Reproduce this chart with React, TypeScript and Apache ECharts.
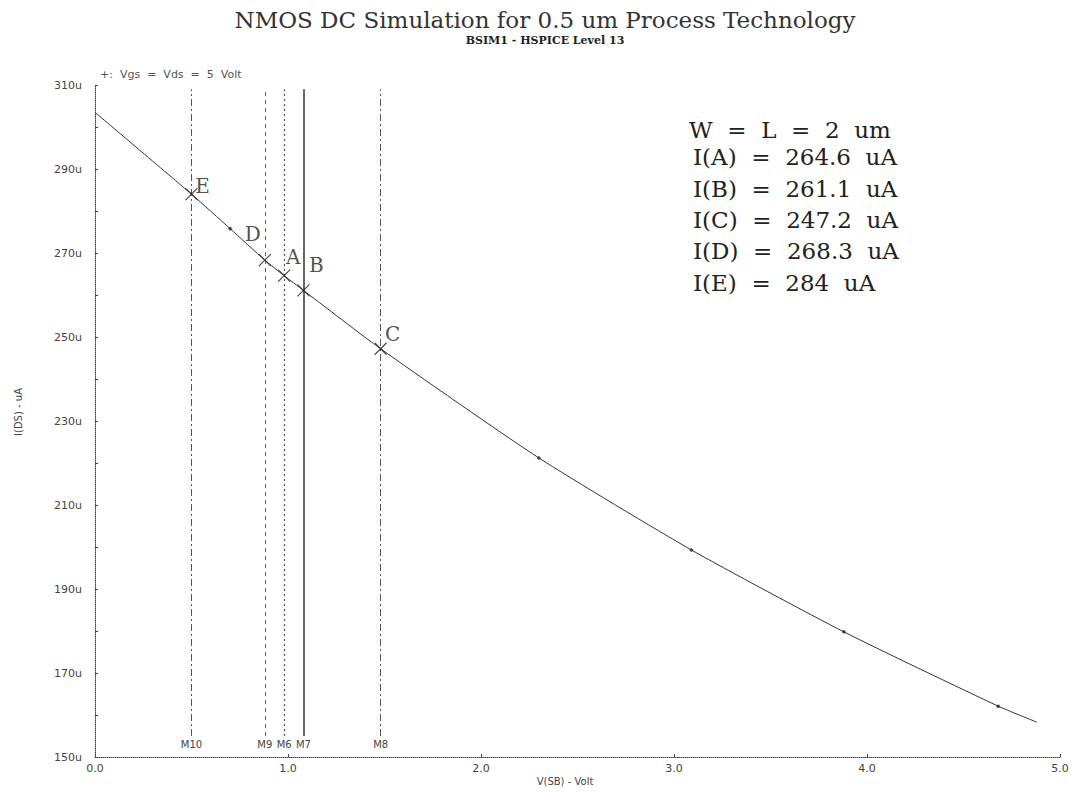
import React, { useEffect, useRef } from "react";
import * as echarts from "echarts";

// Sweep of source-bulk voltage (V) and the resulting drain current (uA)
const vsb = [0, 0.5, 0.7, 0.88, 0.98, 1.08, 1.48, 2.3, 3.09, 3.88, 4.68, 4.88];
const ids = [303.5, 284, 275.8, 268.3, 264.6, 261.1, 247.2, 221.2, 199.3, 179.8, 162.1, 158.3];

// Simulator sample dots drawn on the curve
const sampleV = [0.7, 2.3, 3.09, 3.88, 4.68];

// Labelled operating points
const pointNames = ["E", "D", "A", "B", "C"];
const pointV = [0.5, 0.88, 0.98, 1.08, 1.48];
const pointI = [284, 268.3, 264.6, 261.1, 247.2];

// Device marker lines
const markerNames = ["M10", "M9", "M6", "M7", "M8"];
const markerV = [0.5, 0.88, 0.98, 1.08, 1.48];

const yTicks = [150, 170, 190, 210, 230, 250, 270, 290, 310];
const xTicks = [0, 1, 2, 3, 4, 5];

const infoLines = [
  "W  =  L  =  2  um",
  "I(A)  =  264.6  uA",
  "I(B)  =  261.1  uA",
  "I(C)  =  247.2  uA",
  "I(D)  =  268.3  uA",
  "I(E)  =  284  uA",
];

const SERIF = "'DejaVu Serif', 'Liberation Serif', serif";
const SANS = "'DejaVu Sans', 'Liberation Sans', sans-serif";

export default function App() {
  const ref = useRef<HTMLDivElement>(null);

  useEffect(() => {
    if (!ref.current) return;
    const chart = echarts.init(ref.current, undefined, { renderer: "svg" });

    // label offsets relative to each cross
    const labelOffset: Record<string, number[]> = {
      E: [11, -8],
      D: [-12, -26],
      A: [9, -19],
      B: [13, -25],
      C: [12, -15],
    };

    const lineStyles: Record<string, any> = {
      M10: { type: [7, 3, 2, 3], color: "#555", width: 1 },
      M9: { type: [4, 4], color: "#666", width: 1 },
      M6: { type: [2, 3], color: "#555", width: 1.2 },
      M7: { type: "solid", color: "#333", width: 1.5 },
      M8: { type: [7, 3, 2, 3], color: "#555", width: 1 },
    };

    const markLineData = markerNames.map((n, k) => [
      {
        name: n,
        coord: [markerV[k], 155],
        lineStyle: lineStyles[n],
        label: {
          show: true,
          position: "start",
          formatter: n,
          fontFamily: SANS,
          fontSize: 10,
          color: "#444",
          distance: 3,
        },
      },
      { coord: [markerV[k], 309] },
    ]);

    const option: any = {
      animation: false,
      backgroundColor: "#fff",
      title: {
        text: "NMOS DC Simulation for 0.5 um Process Technology",
        subtext: "BSIM1 - HSPICE Level 13",
        left: 540,
        textAlign: "center",
        top: 3,
        itemGap: 4,
        textStyle: { fontFamily: SERIF, fontSize: 23, fontWeight: "normal", color: "#333" },
        subtextStyle: { fontFamily: SERIF, fontSize: 11, fontWeight: "bold", color: "#222" },
      },
      grid: { left: 95, right: 23, top: 85, bottom: 35 },
      xAxis: {
        type: "value",
        min: 0,
        max: 5,
        interval: 1,
        axisLine: { show: true, lineStyle: { type: "dotted", color: "#444", width: 1 } },
        axisTick: { show: true, inside: true, length: 3, lineStyle: { color: "#444" } },
        splitLine: { show: false },
        axisLabel: {
          formatter: (v: number) => (xTicks.includes(v) ? v.toFixed(1) : ""),
          fontFamily: SANS,
          fontSize: 11,
          color: "#444",
          margin: 6,
        },
      },
      yAxis: {
        type: "value",
        min: 150,
        max: 310,
        interval: 10,
        axisLine: { show: true, lineStyle: { type: "dotted", color: "#444", width: 1 } },
        axisTick: { show: true, inside: true, length: 3, lineStyle: { color: "#444" } },
        splitLine: { show: false },
        axisLabel: {
          formatter: (v: number) => (yTicks.includes(v) ? `${v}u` : ""),
          fontFamily: SANS,
          fontSize: 11,
          color: "#444",
          margin: 13,
        },
      },
      series: [
        {
          type: "line",
          data: vsb.map((v, k) => [v, ids[k]]),
          smooth: 0.2,
          showSymbol: false,
          lineStyle: { color: "#333", width: 1 },
          markLine: {
            silent: true,
            symbol: ["none", "none"],
            data: markLineData,
          },
          z: 3,
        },
        {
          type: "scatter",
          data: vsb
            .map((v, k) => [v, ids[k]])
            .filter((p) => sampleV.includes(p[0] as number)),
          symbol: "circle",
          symbolSize: 3.5,
          itemStyle: { color: "#222" },
          z: 4,
        },
        {
          type: "scatter",
          data: pointNames.map((n, k) => ({
            name: n,
            value: [pointV[k], pointI[k]],
            label: {
              show: true,
              formatter: n,
              position: "inside",
              offset: labelOffset[n],
              fontFamily: SERIF,
              fontSize: 20,
              color: "#222",
            },
          })),
          symbol: "path://M0,0L10,10M10,0L0,10",
          symbolSize: 12,
          itemStyle: { color: "none", borderColor: "#222", borderWidth: 1.2 },
          z: 5,
        },
      ],
      graphic: [
        {
          type: "text",
          left: 100,
          top: 69,
          style: {
            text: "+:  Vgs  =  Vds  =  5  Volt",
            fontFamily: SANS,
            fontSize: 11,
            fill: "#555",
          },
        },
        {
          type: "text",
          x: 18,
          y: 412,
          rotation: Math.PI / 2,
          style: {
            text: "I(DS) - uA",
            fontFamily: SANS,
            fontSize: 10,
            fill: "#444",
            align: "center",
            verticalAlign: "middle",
          },
        },
        {
          type: "text",
          x: 565,
          y: 781,
          style: {
            text: "V(SB) - Volt",
            fontFamily: SANS,
            fontSize: 10,
            fill: "#444",
            align: "center",
            verticalAlign: "middle",
          },
        },
        ...infoLines.map((t, k) => ({
          type: "text",
          x: k === 0 ? 689 : 693,
          y: [130, 157, 189, 220, 251, 283][k],
          style: {
            text: t,
            fontFamily: SERIF,
            fontSize: 23,
            fill: "#222",
            verticalAlign: "middle",
          },
        })),
      ],
    };

    chart.setOption(option);
    return () => chart.dispose();
  }, []);

  return (
    <div
      ref={ref}
      style={{ position: "fixed", left: 0, top: 0, width: 1083, height: 792 }}
    />
  );
}
